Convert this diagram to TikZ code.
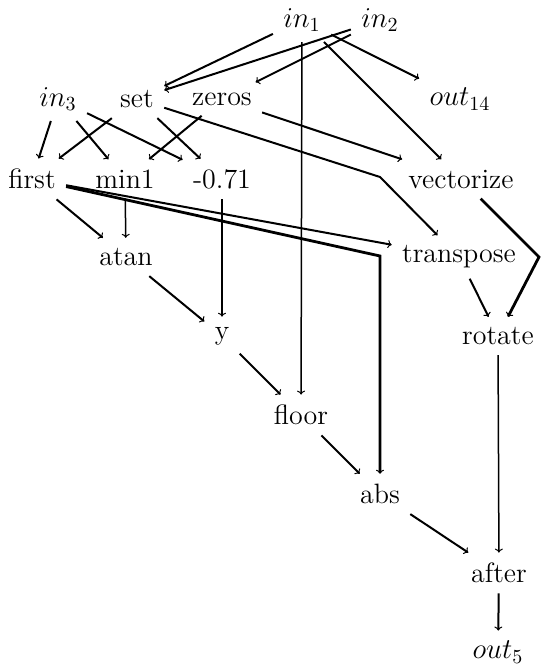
\documentclass[tikz,border=0pt]{standalone}
\usetikzlibrary{arrows.meta}

\begin{document}
\begin{tikzpicture}[x=0.5pt, y=-0.5pt]
    % Define styles
    \tikzstyle{op}=[inner sep=5pt, font=\fontsize{14}{16}\selectfont]
    \tikzstyle{arrow}=[-{To[line width=0.5pt, length=2pt, width=4pt]}, line width=1pt]
    \tikzstyle{thinarrow}=[arrow, line width=0.75pt]
    \tikzstyle{heavyarrow}=[arrow, line width=1.4pt]

    \useasboundingbox (0,0) rectangle (544,670);

    % Inputs and outputs
    \node[op] (in1) at (302,20) {$in_1$};
    \node[op] (in2) at (380,20) {$in_2$};
    \node[op] (in3) at (58,99) {$in_3$};
    \node[op] (out14) at (460,99) {$out_{14}$};
    \node[op] (out5) at (498,652) {$out_5$};

    % Operations
    \node[op] (set) at (137,99) {set};
    \node[op] (zeros) at (222,99) {zeros};
    \node[op] (first) at (32,179) {first};
    \node[op] (min1) at (125,179) {min1};
    \node[op] (m071) at (222,179) {-0.71};
    \node[op] (vectorize) at (461,179) {vectorize};
    \node[op] (atan) at (126,257) {atan};
    \node[op] (transpose) at (459,257) {transpose};
    \node[op] (y) at (222,336) {y};
    \node[op] (rotate) at (498,336) {rotate};
    \node[op] (floor) at (301,415) {floor};
    \node[op] (abs) at (380,494) {abs};
    \node[op] (after) at (499,573) {after};

    % Bends
    \coordinate (bendA) at (380,177);
    \coordinate (bendB) at (380,256);
    \coordinate (bendC) at (539,257);

    % Connections
    \draw[arrow] (in1) -- (set);
    \draw[arrow] (in2) -- (set);
    \draw[arrow] (in2) -- (zeros);
    \draw[arrow] (in1) -- (out14);
    \draw[arrow] (in1) -- (vectorize);
    \draw[thinarrow] (in1) -- (floor);
    \draw[arrow] (in3) -- (first);
    \draw[arrow] (in3) -- (min1);
    \draw[arrow] (in3) -- (m071);
    \draw[arrow] (set) -- (first);
    \draw[arrow] (set) -- (m071);
    \draw[arrow] (set) -- (bendA) -- (transpose);
    \draw[arrow] (zeros) -- (min1);
    \draw[arrow] (zeros) -- (vectorize);
    \draw[arrow] (first) -- (atan);
    \draw[arrow] (first) -- (transpose);
    \draw[heavyarrow] (first) -- (bendB) -- (abs);
    \draw[thinarrow] (min1) -- (atan);
    \draw[arrow] (m071) -- (y);
    \draw[arrow] (atan) -- (y);
    \draw[arrow] (y) -- (floor);
    \draw[arrow] (floor) -- (abs);
    \draw[heavyarrow] (vectorize) -- (bendC) -- (rotate);
    \draw[arrow] (transpose) -- (rotate);
    \draw[thinarrow] (rotate) -- (after);
    \draw[arrow] (abs) -- (after);
    \draw[arrow] (after) -- (out5);
\end{tikzpicture}
\end{document}
